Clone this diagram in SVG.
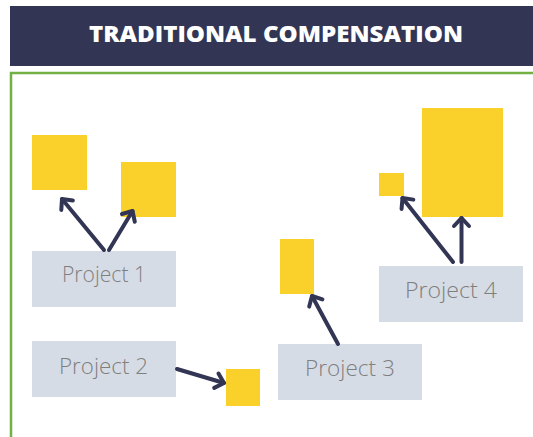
<svg xmlns="http://www.w3.org/2000/svg" width="533" height="437" viewBox="0 0 533 437">
  <style>
    .title { font-family: "Open Sans", "Liberation Sans", sans-serif; font-weight: 800; font-size: 23.5px; fill: #ffffff; }
    .box { fill: #d6dce5; }
    .label { font-family: "Open Sans", "Liberation Sans", sans-serif; font-weight: 300; font-size: 22px; fill: #7f7f7f; }
    .block { fill: #f9d12a; }
    .link { stroke: #323654; stroke-width: 4; stroke-linecap: round; fill: none; marker-end: url(#head); }
  </style>
  <defs>
    <marker id="head" markerUnits="userSpaceOnUse" orient="auto" refX="0" refY="0" markerWidth="20" markerHeight="20" viewBox="-12 -10 14 20" overflow="visible">
      <path d="M-8,-7.5 L0,0 L-8,7.5" fill="none" stroke="#323654" stroke-width="4" stroke-linecap="round" stroke-linejoin="round"/>
    </marker>
  </defs>

  <rect width="533" height="437" fill="#ffffff"/>

  <!-- header band -->
  <g id="header">
    <rect x="10" y="6" width="523" height="60" fill="#323654"/>
    <text class="title" x="276" y="42" text-anchor="middle" textLength="374" lengthAdjust="spacingAndGlyphs">TRADITIONAL COMPENSATION</text>
  </g>

  <!-- green frame -->
  <rect id="frame" x="11" y="73" width="540" height="400" fill="none" stroke="#72b043" stroke-width="2.5"/>

  <!-- outputs -->
  <g id="block-1a"><rect class="block" x="32" y="135" width="55" height="55"/></g>
  <g id="block-1b"><rect class="block" x="121" y="162" width="55" height="55"/></g>
  <g id="block-2"><rect class="block" x="226" y="369" width="34" height="37"/></g>
  <g id="block-3"><rect class="block" x="280" y="239" width="34" height="55"/></g>
  <g id="block-4a"><rect class="block" x="379" y="173" width="25" height="23"/></g>
  <g id="block-4b"><rect class="block" x="422" y="108" width="81" height="109"/></g>

  <!-- projects -->
  <g id="project-1">
    <rect class="box" x="32" y="251" width="144" height="56"/>
    <text class="label" x="104" y="282" text-anchor="middle" textLength="84" lengthAdjust="spacingAndGlyphs">Project 1</text>
  </g>
  <g id="project-2">
    <rect class="box" x="32" y="341" width="144" height="56"/>
    <text class="label" x="103.5" y="374" text-anchor="middle" textLength="89" lengthAdjust="spacingAndGlyphs">Project 2</text>
  </g>
  <g id="project-3">
    <rect class="box" x="278" y="344" width="144" height="56"/>
    <text class="label" x="350" y="376" text-anchor="middle" textLength="90" lengthAdjust="spacingAndGlyphs">Project 3</text>
  </g>
  <g id="project-4">
    <rect class="box" x="379" y="266" width="144" height="56"/>
    <text class="label" x="451" y="298" text-anchor="middle" textLength="92" lengthAdjust="spacingAndGlyphs">Project 4</text>
  </g>

  <!-- connectors -->
  <g id="connectors">
    <line class="link" x1="104" y1="250" x2="62" y2="199"/>
    <line class="link" x1="109" y1="250" x2="132.5" y2="211"/>
    <line class="link" x1="177" y1="369" x2="224" y2="383"/>
    <line class="link" x1="338" y1="344" x2="312" y2="296"/>
    <line class="link" x1="453" y1="262" x2="402.5" y2="198"/>
    <line class="link" x1="461.5" y1="262" x2="461.5" y2="218"/>
  </g>
</svg>
